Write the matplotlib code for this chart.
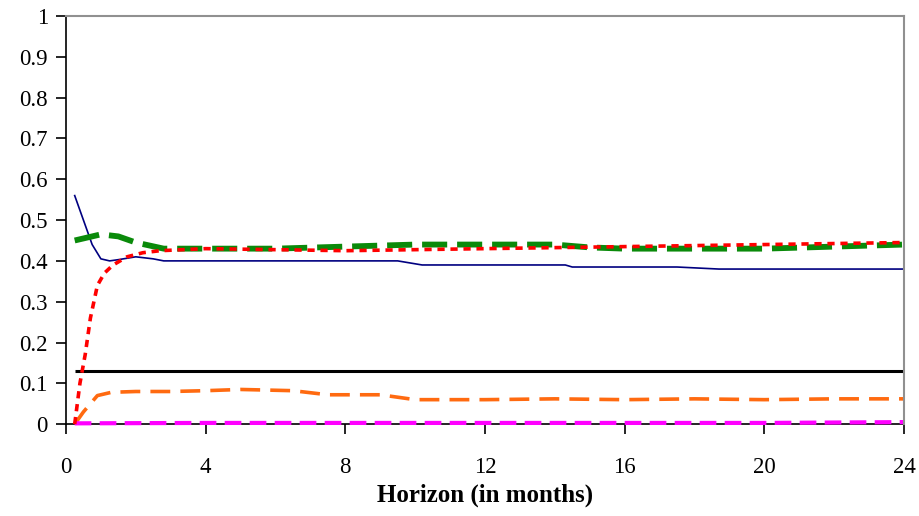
import numpy as np
import matplotlib
matplotlib.use("Agg")
import matplotlib.pyplot as plt
from matplotlib.ticker import FuncFormatter, MultipleLocator

plt.rcParams['font.family'] = ['Liberation Serif', 'DejaVu Serif']

# series (horizon in months, share)
navy_x = [0.25, 0.5, 0.75, 1.0, 1.25, 1.5, 2.0, 2.5, 2.8, 9.5, 10.2, 14.3, 14.5, 17.5, 18.7, 24]
navy_y = [0.56, 0.50, 0.44, 0.405, 0.40, 0.403, 0.41, 0.405, 0.40, 0.40, 0.39, 0.39, 0.385, 0.385, 0.38, 0.38]

green_x = [0.25, 0.5, 1.0, 1.5, 2.0, 2.8, 4, 6, 8, 10, 12, 14, 15, 16, 18, 20, 22, 24]
green_y = [0.45, 0.455, 0.465, 0.46, 0.445, 0.43, 0.43, 0.43, 0.435, 0.44, 0.44, 0.44, 0.433, 0.43, 0.43, 0.43, 0.435, 0.44]

red_x = [0.25, 0.4, 0.55, 0.7, 0.9, 1.1, 1.35, 1.75, 2.2, 2.7, 4, 8, 12, 16, 20, 24]
red_y = [0.0, 0.10, 0.17, 0.26, 0.34, 0.37, 0.39, 0.41, 0.42, 0.425, 0.43, 0.425, 0.43, 0.435, 0.44, 0.445]

orange_x = [0.25, 0.5, 0.7, 0.9, 1.3, 2, 3, 4, 5, 6.5, 7.5, 9, 10, 12, 14, 16, 18, 20, 22, 24]
orange_y = [0.0, 0.03, 0.05, 0.07, 0.078, 0.08, 0.08, 0.082, 0.085, 0.082, 0.072, 0.072, 0.06, 0.06, 0.062, 0.06, 0.062, 0.06, 0.062, 0.062]

magenta_x = [0.25, 4, 8, 12, 16, 20, 24]
magenta_y = [0.002, 0.003, 0.003, 0.003, 0.003, 0.003, 0.005]

black_x = [0.25, 24]
black_y = [0.13, 0.13]

fig = plt.figure(figsize=(9.2, 5.16), dpi=100)
ax = fig.add_axes([0.0717, 0.178, 0.9109, 0.791])

ax.plot(black_x, black_y, color='black', lw=2.2, solid_capstyle='butt')
ax.plot(orange_x, orange_y, color='#ff6a10', lw=2.6, dashes=(5.5, 2.8), clip_on=False)
ax.plot(magenta_x, magenta_y, color='#ff00ff', lw=3.0, dashes=(4, 2), clip_on=False)
ax.plot(navy_x, navy_y, color='#000080', lw=1.2)
ax.plot(green_x, green_y, color='#0a8a0a', lw=4.2, dashes=(4.3, 1.7))
ax.plot(red_x, red_y, color='#ff0000', lw=2.6, dashes=(2, 1.6), clip_on=False)

ax.set_xlim(0, 24)
ax.set_ylim(0, 1)
ax.xaxis.set_major_locator(MultipleLocator(4))
ax.yaxis.set_major_locator(MultipleLocator(0.1))
ax.yaxis.set_major_formatter(FuncFormatter(lambda v, p: '%g' % round(v, 1)))

for s in ['top', 'right']:
    ax.spines[s].set_color('#909090')
    ax.spines[s].set_linewidth(1.5)
for s in ['left', 'bottom']:
    ax.spines[s].set_color('black')
    ax.spines[s].set_linewidth(1.2)
    ax.spines[s].set_zorder(1)

ax.tick_params(direction='out', length=7, width=1.2, labelsize=16.5)
ax.tick_params(axis='y', pad=6)
ax.tick_params(axis='x', pad=17)
ax.set_xlabel('Horizon (in months)', fontsize=18, fontweight='bold', labelpad=4)

fig.savefig('out.png', dpi=100)
